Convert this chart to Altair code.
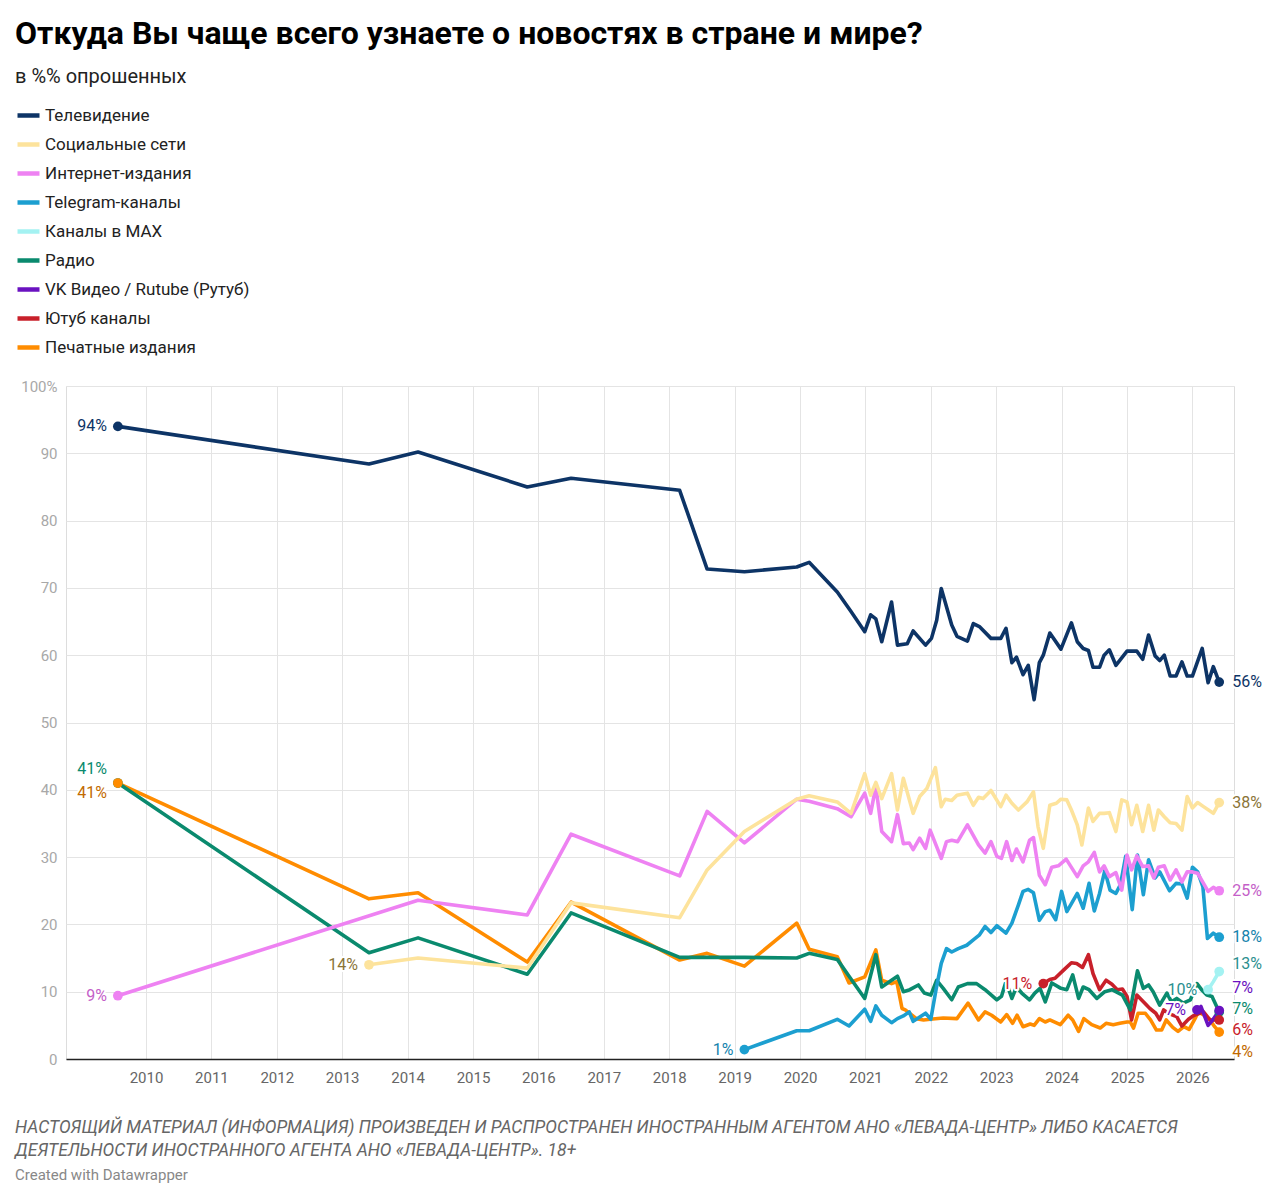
import altair as alt
import pandas as pd

TITLE = "Откуда Вы чаще всего узнаете о новостях в стране и мире?"
SUBTITLE = "в %% опрошенных"
FOOTER = [
    "НАСТОЯЩИЙ МАТЕРИАЛ (ИНФОРМАЦИЯ) ПРОИЗВЕДЕН И РАСПРОСТРАНЕН ИНОСТРАННЫМ АГЕНТОМ АНО «ЛЕВАДА-ЦЕНТР» ЛИБО КАСАЕТСЯ",
    "ДЕЯТЕЛЬНОСТИ ИНОСТРАННОГО АГЕНТА АНО «ЛЕВАДА-ЦЕНТР». 18+",
]
CREDIT = "Created with Datawrapper"

series = [
    "Телевидение", "Социальные сети", "Интернет-издания", "Telegram-каналы",
    "Каналы в MAX", "Радио", "VK Видео / Rutube (Рутуб)", "Ютуб каналы", "Печатные издания",
]
line_colors = ["#0d3466", "#fde39c", "#ee82f2", "#1c9fd0", "#a4f2f2",
               "#0a8a6e", "#6a12c0", "#c8202a", "#ff8c00"]
label_colors = ["#0d3466", "#8a7437", "#c460c8", "#1583ad", "#2b8f8f",
                "#0a8a6e", "#6a12c0", "#c8202a", "#c26a00"]
year_ticks = list(range(2010, 2027))

# (year, %)
tv = [(2009.57, 94), (2013.41, 88.4), (2014.16, 90.2), (2015.83, 85), (2016.50, 86.3),
      (2018.16, 84.5), (2018.58, 72.8), (2019.15, 72.4), (2019.95, 73.1), (2020.14, 73.8),
      (2020.57, 69.4), (2020.78, 66.5), (2020.99, 63.5), (2021.08, 66), (2021.16, 65.4),
      (2021.25, 62), (2021.40, 67.9), (2021.49, 61.5), (2021.64, 61.7), (2021.73, 63.6),
      (2021.92, 61.5), (2022.01, 62.5), (2022.09, 65.2), (2022.16, 69.9), (2022.32, 64.5),
      (2022.40, 62.8), (2022.56, 62.1), (2022.65, 64.7), (2022.75, 64.2), (2022.92, 62.5),
      (2023.07, 62.5), (2023.15, 64), (2023.24, 58.9), (2023.31, 59.7), (2023.41, 57.1),
      (2023.49, 58.5), (2023.58, 53.4), (2023.66, 58.9), (2023.72, 60), (2023.82, 63.3),
      (2023.99, 60.9), (2024.15, 64.8), (2024.24, 62), (2024.33, 61), (2024.41, 60.7),
      (2024.48, 58.2), (2024.58, 58.2), (2024.65, 60), (2024.73, 60.8), (2024.83, 58.5),
      (2025.00, 60.6), (2025.15, 60.6), (2025.24, 59.4), (2025.33, 63), (2025.43, 59.9),
      (2025.50, 59.2), (2025.57, 60), (2025.66, 56.9), (2025.75, 56.9), (2025.84, 59),
      (2025.92, 56.9), (2026.00, 56.9), (2026.15, 61), (2026.24, 55.9), (2026.32, 58.3),
      (2026.41, 56)]

social = [(2013.41, 14), (2014.16, 15), (2015.83, 13.5), (2016.50, 23.2), (2018.16, 21),
          (2018.58, 28.1), (2019.15, 33.8), (2019.95, 38.6), (2020.14, 39.1), (2020.57, 38.2),
          (2020.78, 36.5), (2020.99, 42.4), (2021.08, 39.2), (2021.16, 41.1), (2021.25, 38.7),
          (2021.40, 42.4), (2021.49, 37), (2021.58, 41.7), (2021.73, 36.5), (2021.83, 39),
          (2021.94, 40.2), (2022.07, 43.3), (2022.16, 37.5), (2022.22, 38.6), (2022.32, 38.4),
          (2022.40, 39.2), (2022.56, 39.5), (2022.65, 37.7), (2022.73, 38.9), (2022.80, 38.7),
          (2022.92, 39.9), (2023.07, 37.5), (2023.15, 39.2), (2023.24, 38), (2023.34, 37),
          (2023.47, 38.2), (2023.57, 39.7), (2023.64, 34.5), (2023.72, 31.3), (2023.82, 37.7),
          (2023.92, 38), (2023.99, 38.6), (2024.08, 38.5), (2024.15, 37), (2024.24, 34.8),
          (2024.31, 31.8), (2024.41, 37.3), (2024.48, 35.3), (2024.58, 36.5), (2024.65, 36.5),
          (2024.73, 36.6), (2024.83, 33.8), (2024.92, 38.5), (2025.00, 38.2), (2025.07, 34.8),
          (2025.15, 37.7), (2025.24, 33.8), (2025.33, 37.7), (2025.41, 34), (2025.48, 37),
          (2025.57, 36), (2025.66, 35.1), (2025.75, 35), (2025.84, 34), (2025.92, 39),
          (2026.00, 37.3), (2026.08, 38.1), (2026.17, 37.5), (2026.32, 36.5), (2026.41, 38.1)]

internet = [(2009.57, 9.4), (2014.16, 23.6), (2015.83, 21.4), (2016.50, 33.4), (2018.16, 27.2),
            (2018.58, 36.8), (2019.15, 32.1), (2019.95, 38.6), (2020.14, 38.3), (2020.57, 37.2),
            (2020.78, 36), (2020.99, 39.5), (2021.08, 36.5), (2021.16, 40.5), (2021.25, 33.8),
            (2021.40, 32.3), (2021.49, 36.3), (2021.58, 32), (2021.67, 32.1), (2021.73, 31.1),
            (2021.83, 32.8), (2021.92, 31.3), (2021.99, 34), (2022.16, 29.8), (2022.24, 32.3),
            (2022.32, 32.5), (2022.41, 32.3), (2022.56, 34.8), (2022.73, 31.8), (2022.83, 30.6),
            (2022.92, 32.3), (2023.01, 30.1), (2023.08, 29.8), (2023.16, 32.3), (2023.24, 29.5),
            (2023.31, 31.2), (2023.41, 29.3), (2023.51, 32.5), (2023.57, 32.9), (2023.66, 27.3),
            (2023.75, 25.9), (2023.85, 28.5), (2023.95, 28.7), (2024.07, 29.7), (2024.24, 27.1),
            (2024.33, 28.7), (2024.41, 29.3), (2024.50, 30.7), (2024.58, 27.8), (2024.65, 28.7),
            (2024.73, 27.1), (2024.83, 27.7), (2024.92, 25.1), (2025.00, 30.3), (2025.07, 28.1),
            (2025.15, 30.2), (2025.24, 28.6), (2025.33, 28.7), (2025.41, 26.9), (2025.48, 28.5),
            (2025.57, 28.7), (2025.66, 26.6), (2025.75, 28.1), (2025.84, 26.3), (2025.92, 27.8),
            (2026.00, 27.8), (2026.08, 27.6), (2026.17, 26.1), (2026.24, 24.9), (2026.32, 25.5),
            (2026.41, 25)]

telegram = [(2019.15, 1.4), (2019.95, 4.2), (2020.14, 4.2), (2020.57, 5.9), (2020.75, 4.9),
            (2020.99, 7.4), (2021.08, 5.6), (2021.16, 7.9), (2021.25, 6.5), (2021.40, 5.4),
            (2021.49, 6), (2021.58, 6.4), (2021.67, 7), (2021.73, 5.6), (2021.92, 6.8),
            (2022.00, 5.9), (2022.08, 10.3), (2022.16, 14.2), (2022.24, 16.4), (2022.32, 15.9),
            (2022.42, 16.4), (2022.55, 16.9), (2022.65, 17.7), (2022.74, 18.4), (2022.83, 19.7),
            (2022.92, 18.8), (2023.01, 19.8), (2023.15, 18.7), (2023.24, 20.2), (2023.34, 22.9),
            (2023.41, 24.9), (2023.49, 25.2), (2023.57, 24.7), (2023.66, 20.6), (2023.75, 21.9),
            (2023.82, 22.1), (2023.91, 20.7), (2024.00, 24.9), (2024.08, 21.9), (2024.24, 24.6),
            (2024.33, 22.4), (2024.42, 26.1), (2024.50, 22), (2024.58, 24.6), (2024.66, 28),
            (2024.74, 25.1), (2024.83, 24.6), (2024.90, 25.9), (2024.98, 30.1), (2025.08, 22.2),
            (2025.16, 30.3), (2025.25, 24.4), (2025.33, 29.6), (2025.43, 26.9), (2025.50, 27.8),
            (2025.65, 25), (2025.75, 26.1), (2025.84, 26), (2025.92, 23.9), (2026.00, 28.5),
            (2026.08, 27.8), (2026.16, 25.6), (2026.23, 17.9), (2026.32, 18.7), (2026.41, 18.1)]

max_channels = [(2026.24, 10.3), (2026.32, 11.5), (2026.41, 13)]

radio = [(2009.57, 41), (2013.41, 15.8), (2014.16, 18), (2015.83, 12.6), (2016.50, 21.7),
         (2018.16, 15.1), (2018.58, 15.1), (2019.15, 15.1), (2019.95, 15), (2020.14, 15.7),
         (2020.57, 14.8), (2020.75, 12.3), (2020.99, 9), (2021.16, 15.5), (2021.25, 10.7),
         (2021.40, 11.7), (2021.49, 12.3), (2021.58, 10), (2021.68, 10.3), (2021.81, 11),
         (2021.90, 9.8), (2022.00, 9.5), (2022.09, 11.7), (2022.19, 10.5), (2022.32, 8.8),
         (2022.42, 10.7), (2022.56, 11.2), (2022.70, 11.2), (2022.83, 10.3), (2023.01, 8.8),
         (2023.08, 9.3), (2023.15, 11.5), (2023.24, 9), (2023.31, 10.7), (2023.39, 9.8),
         (2023.51, 8.8), (2023.59, 9.8), (2023.67, 10.5), (2023.75, 8.5), (2023.85, 11.3),
         (2023.99, 10.5), (2024.08, 10.3), (2024.17, 12.5), (2024.26, 9), (2024.33, 10.7),
         (2024.42, 10.3), (2024.54, 9), (2024.66, 10), (2024.77, 10.3), (2024.85, 9.9),
         (2024.93, 9.5), (2025.05, 7.3), (2025.16, 13.1), (2025.25, 10.5), (2025.33, 11),
         (2025.40, 10), (2025.50, 8), (2025.61, 9.8), (2025.68, 8.5), (2025.76, 9),
         (2025.86, 8.3), (2025.97, 8.8), (2026.07, 11.2), (2026.14, 10.3), (2026.22, 9.5),
         (2026.30, 9.3), (2026.41, 7)]

vk = [(2026.07, 7.3), (2026.13, 7.8), (2026.24, 5), (2026.31, 5.8), (2026.41, 7.2)]

youtube = [(2023.72, 11.2), (2023.82, 11.8), (2023.90, 12), (2024.03, 13.2), (2024.15, 14.3),
           (2024.23, 14.2), (2024.32, 13.6), (2024.41, 15.5), (2024.48, 12.7), (2024.58, 10.3),
           (2024.68, 11.7), (2024.77, 11.1), (2024.85, 10.3), (2024.93, 10.4), (2025.00, 9.3),
           (2025.07, 5.8), (2025.15, 9.5), (2025.25, 8.5), (2025.35, 7.5), (2025.44, 6.8),
           (2025.50, 5.8), (2025.56, 7.3), (2025.65, 6.7), (2025.76, 6.3), (2025.84, 4.9),
           (2025.94, 5.9), (2026.01, 6.4), (2026.09, 6.7), (2026.17, 7), (2026.27, 5.8),
           (2026.41, 5.8)]

press = [(2009.57, 41), (2013.41, 23.8), (2014.16, 24.7), (2015.83, 14.4), (2016.50, 23.3),
         (2018.16, 14.7), (2018.58, 15.7), (2019.15, 13.8), (2019.95, 20.2), (2020.14, 16.3),
         (2020.57, 15.2), (2020.75, 11.3), (2020.99, 12.2), (2021.16, 16.2), (2021.25, 11.7),
         (2021.40, 11.2), (2021.48, 11.5), (2021.56, 7.5), (2021.61, 7.3), (2021.78, 6),
         (2021.89, 5.8), (2021.99, 5.9), (2022.19, 6.1), (2022.40, 6), (2022.57, 8.3),
         (2022.73, 5.8), (2022.83, 7), (2022.93, 6.5), (2023.07, 5.5), (2023.16, 6.6),
         (2023.25, 5.3), (2023.32, 6.5), (2023.41, 4.8), (2023.52, 5.2), (2023.58, 5),
         (2023.66, 6), (2023.75, 5.5), (2023.82, 5.8), (2023.98, 5.1), (2024.10, 6.5),
         (2024.17, 5.8), (2024.26, 4.1), (2024.34, 6), (2024.46, 5.1), (2024.59, 4.6),
         (2024.68, 5.3), (2024.79, 5.1), (2024.89, 5.3), (2025.00, 5.5), (2025.05, 5.5),
         (2025.10, 4.6), (2025.17, 6.8), (2025.28, 6.8), (2025.36, 5.8), (2025.45, 4.3),
         (2025.53, 4.3), (2025.60, 5.8), (2025.70, 4.7), (2025.78, 4.1), (2025.87, 4.8),
         (2025.95, 4.4), (2026.04, 6), (2026.09, 7), (2026.18, 6.5), (2026.27, 5.8),
         (2026.34, 4.8), (2026.41, 4)]

all_points = [tv, social, internet, telegram, max_channels, radio, vk, youtube, press]

PLOT_W, PLOT_H = 1168, 673
PX_PER_UNIT = PLOT_H / 100

# label nudges in pixels (positive = down)
start_dy = {"Радио": -14, "Печатные издания": 10}
end_dy = {"Каналы в MAX": -8, "VK Видео / Rutube (Рутуб)": -23, "Радио": -3,
          "Ютуб каналы": 10, "Печатные издания": 20}

rows, starts, ends = [], [], []
for name, lc, tc, pts in zip(series, line_colors, label_colors, all_points):
    for t, v in pts:
        rows.append({"series": name, "t": t, "v": v, "color": lc})
    t0, v0 = pts[0]
    t1, v1 = pts[-1]
    starts.append({"series": name, "t": t0, "v": v0, "color": lc, "lcolor": tc,
                   "label": f"{round(v0)}%",
                   "ly": v0 - start_dy.get(name, 0) / PX_PER_UNIT})
    ends.append({"series": name, "t": t1, "v": v1, "color": lc, "lcolor": tc,
                 "label": f"{round(v1)}%",
                 "ly": v1 - end_dy.get(name, 0) / PX_PER_UNIT})

# draw in reverse legend order so the first series ends up on top
df = pd.DataFrame(rows)
df["order"] = df["series"].map({s: i for i, s in enumerate(series)})
df = df.sort_values("order", ascending=False, kind="stable")
dots = pd.DataFrame(starts + ends)
start_df = pd.DataFrame(starts)
end_df = pd.DataFrame(ends)

FONT = "Roboto"
x_enc = alt.X(
    "t:Q",
    scale=alt.Scale(domain=[2008.777, 2026.636], nice=False, zero=False),
    axis=alt.Axis(values=year_ticks, format="d", title=None, ticks=False,
                  domainColor="#222222", domainWidth=1.5, gridColor="#e4e4e4",
                  labelColor="#666666", labelFontSize=15, labelPadding=11, labelFont=FONT),
)
y_enc = alt.Y(
    "v:Q",
    scale=alt.Scale(domain=[0, 100], nice=False),
    axis=alt.Axis(values=list(range(0, 101, 10)), title=None, ticks=False, domain=False,
                  gridColor="#e4e4e4", labelColor="#a8a8a8", labelFontSize=15,
                  labelPadding=9, labelFont=FONT,
                  labelExpr="datum.value == 100 ? '100%' : datum.label"),
)

lines = alt.Chart(df).mark_line(strokeWidth=3.6, strokeJoin="round", strokeCap="round").encode(
    x=x_enc,
    y=y_enc,
    detail="series:N",
    color=alt.Color(
        "series:N",
        scale=alt.Scale(domain=series, range=line_colors),
        legend=alt.Legend(
            orient="none", legendX=-51, legendY=-284, direction="vertical", title=None,
            symbolType="stroke", symbolStrokeWidth=4.5, symbolSize=484,
            labelFontSize=17, labelFont=FONT, labelColor="#222222",
            rowPadding=6, labelOffset=3, padding=0, labelLimit=400,
        ),
    ),
)

points = alt.Chart(dots).mark_circle(size=95, opacity=1).encode(
    x="t:Q", y="v:Q", color=alt.Color("color:N", scale=None)
)


def label_layer(data, align, dx, halo):
    mark = dict(align=align, baseline="middle", dx=dx, fontSize=16, font=FONT)
    if halo:
        mark.update(stroke="white", strokeWidth=4, strokeJoin="round", fill="white")
        enc = {}
    else:
        enc = {"color": alt.Color("lcolor:N", scale=None)}
    return alt.Chart(data).mark_text(**mark).encode(
        x="t:Q", y="ly:Q", text="label:N", **enc
    )


labels = [
    label_layer(start_df, "right", -11, True),
    label_layer(end_df, "left", 13, True),
    label_layer(start_df, "right", -11, False),
    label_layer(end_df, "left", 13, False),
]


def static_text(txt, x, y, **kw):
    return alt.Chart(pd.DataFrame({"txt": [txt]})).mark_text(
        align="left", baseline="middle", font=FONT, **kw
    ).encode(x=alt.value(x), y=alt.value(y), text="txt:N")


texts = [
    static_text(TITLE, -51, -352, fontSize=32, fontWeight="bold", color="#000000"),
    static_text(SUBTITLE, -51, -309, fontSize=20, color="#222222"),
    static_text(FOOTER[0], -51, 742, fontSize=17.5, fontStyle="italic", color="#666666"),
    static_text(FOOTER[1], -51, 765, fontSize=17.5, fontStyle="italic", color="#666666"),
    static_text(CREDIT, -51, 789, fontSize=15, color="#888888"),
]

chart = alt.layer(lines, points, *labels, *texts).properties(
    width=PLOT_W,
    height=PLOT_H,
    autosize=alt.AutoSizeParams(type="none"),
    padding={"left": 58, "top": 378, "right": 38, "bottom": 130},
).configure_view(stroke=None).configure(font=FONT)

chart.save("out.html", embed_options={"renderer": "svg", "actions": False})
